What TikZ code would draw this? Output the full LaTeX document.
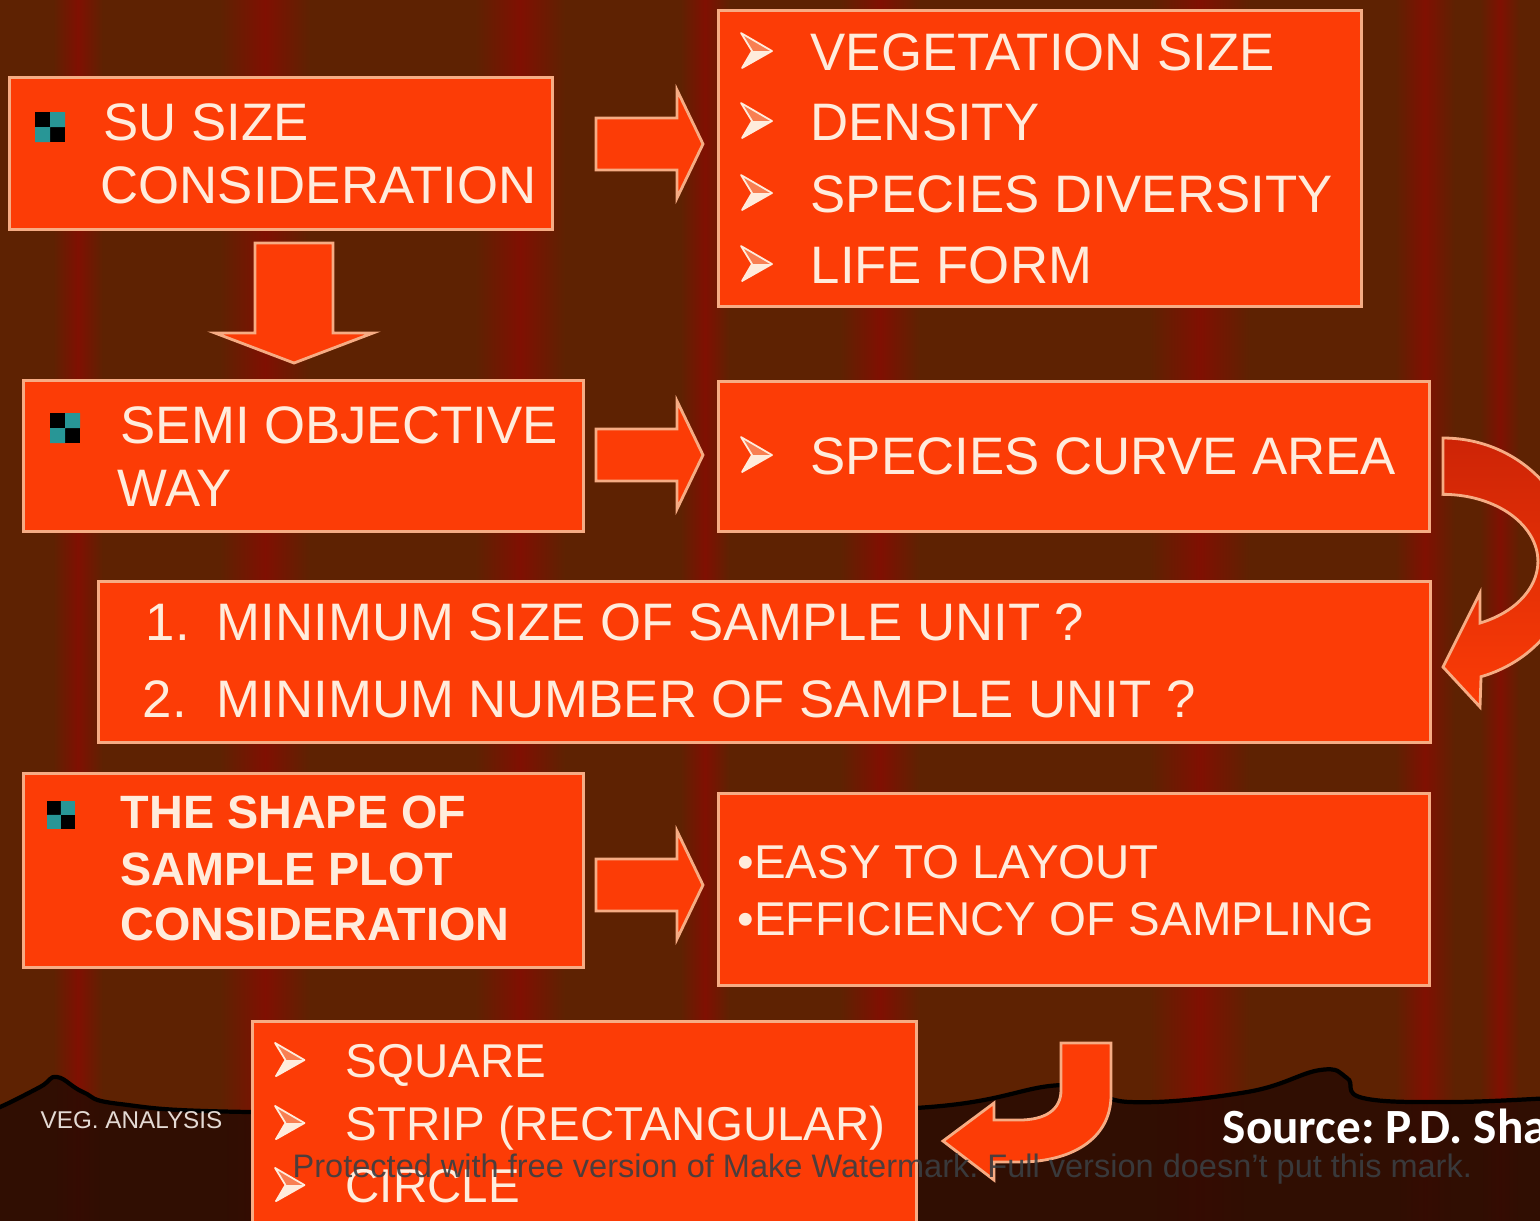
\documentclass[tikz,border=0pt]{standalone}
\usepackage{fontspec}
\setmainfont{Liberation Sans}
\newfontfamily\calfont{Carlito}
\frenchspacing

\definecolor{bgbrown}{RGB}{94,34,2}
\definecolor{bgred}{RGB}{128,16,2}
\definecolor{bgdark}{RGB}{40,11,2}
\definecolor{boxred}{RGB}{252,60,6}
\definecolor{arrdark}{RGB}{205,36,6}
\definecolor{boxline}{RGB}{246,172,132}
\definecolor{cream}{RGB}{255,236,220}
\definecolor{tealsq}{RGB}{40,150,150}
\definecolor{wmgray}{RGB}{58,62,66}

\begin{document}
\begin{tikzpicture}[x=0.01cm, y=-0.01cm]
\tikzset{
  box/.style={draw=boxline, line width=0.8pt, fill=boxred, inner sep=0pt, anchor=north west},
  txt/.style={text=cream, anchor=base west, inner sep=0pt, font=\fontsize{15}{18}\selectfont},
  smalltxt/.style={txt, font=\fontsize{13.5}{16}\selectfont},
  boldtxt/.style={txt, font=\fontsize{13.3}{16}\selectfont\bfseries},
  blockarr/.style={draw=boxline, line width=0.8pt, fill=boxred, line join=miter},
  pics/chev/.style={code={
    \fill[boxline!60!boxred] (0,-18) -- (31,0) -- (11,0) -- cycle;
    \fill[cream] (11,0) -- (31,0) -- (1,17) -- cycle;
    \draw[cream, line width=0.5pt, line join=round] (0,-18) -- (31,0) -- (1,17) -- (11,0) -- cycle;
  }},
  pics/chk/.style={code={
    \fill[black] (0,0) rectangle (30,30);
    \fill[tealsq] (15,0) rectangle (30,15) (0,15) rectangle (15,30);
  }},
  pics/rblock/.style={code={
    \draw[blockarr] (0,-26) -- (81,-26) -- (81,-54) -- (107,0) -- (81,54) -- (81,26) -- (0,26) -- cycle;
  }},
  pics/dblock/.style={code={
    \draw[blockarr] (-39,0) -- (39,0) -- (39,90) -- (79,90) -- (0,120) -- (-79,90) -- (-39,90) -- cycle;
  }}
}
\useasboundingbox (0,0) rectangle (1540,1220);
\clip (-10,-10) rectangle (1550,1230);

% curtain background
\fill[bgbrown] (-10,-10) rectangle (1550,1230);
\foreach \cx/\w in {78/25, 265/45, 520/45, 705/25, 880/40, 1200/50, 1425/30, 1500/20} {
  \shade[left color=bgbrown, right color=bgred] (\cx-\w,-10) rectangle (\cx,1230);
  \shade[left color=bgred, right color=bgbrown] (\cx,-10) rectangle (\cx+\w,1230);
}
\fill[bgdark, opacity=0.85] plot[smooth, tension=0.7] coordinates {(-10,1108) (0,1107) (40,1087) (57,1077) (83,1092) (120,1104) (250,1112) (600,1112) (915,1108) (1063,1085) (1130,1102) (1247,1092) (1320,1070) (1347,1078) (1363,1098) (1450,1102) (1550,1098)} -- (1550,1230) -- (-10,1230) -- cycle;
\draw[black, line width=1.2pt] plot[smooth, tension=0.7] coordinates {(-10,1108) (0,1107) (40,1087) (57,1077) (83,1092) (120,1104) (250,1112) (600,1112) (915,1108) (1063,1085) (1130,1102) (1247,1092) (1320,1070) (1347,1078) (1363,1098) (1450,1102) (1550,1098)};

% boxes
\node[box, minimum width=5.43cm, minimum height=1.52cm] (su) at (8,76) {};
\node[box, minimum width=6.43cm, minimum height=2.96cm] (veg) at (717,9) {};
\node[box, minimum width=5.60cm, minimum height=1.51cm] (semi) at (22,379) {};
\node[box, minimum width=7.11cm, minimum height=1.50cm] (curve) at (717,380) {};
\node[box, minimum width=13.31cm, minimum height=1.61cm] (minq) at (97,580) {};
\node[box, minimum width=5.60cm, minimum height=1.94cm] (shape) at (22,772) {};
\node[box, minimum width=7.11cm, minimum height=1.92cm] (easy) at (717,792) {};
\node[box, minimum width=6.64cm, minimum height=2.30cm] (forms) at (251,1020) {};

% block arrows
\coordinate (r1) at (596,144);
\coordinate (r2) at (596,455);
\coordinate (r3) at (596,885);
\coordinate (d1) at (294,243);
\pic at (r1) {rblock};
\pic at (r2) {rblock};
\pic at (r3) {rblock};
\pic at (d1) {dblock};

\draw[blockarr, top color=arrdark, bottom color=boxred] (1443,438) arc[start angle=-90, end angle=73, x radius=130, y radius=122] -- (1480,707) -- (1443,667) -- (1480,593) -- (1480,623) arc[start angle=67, end angle=-90, x radius=95, y radius=67] -- cycle;
\draw[blockarr] (1061,1043) -- (1111,1043) -- (1111,1095) .. controls (1111,1140) and (1070,1162) .. (1019,1162) -- (994,1162) -- (994,1180) -- (943,1141) -- (994,1103) -- (994,1120) -- (1019,1120) .. controls (1045,1120) and (1061,1110) .. (1061,1090) -- cycle;

% box texts
\pic at (35,112) {chk};
\node[txt] (su1) at (103,140) {SU SIZE};
\node[txt] (su2) at (100,203) {CONSIDERATION};

\foreach \by/\t [count=\i] in {70/VEGETATION SIZE, 140/DENSITY, 212/SPECIES DIVERSITY, 283/LIFE FORM} {
  \pic at (741,\by-19) {chev};
  \node[txt] (veg\i) at (810,\by) {\t};
}

\pic at (50,413) {chk};
\node[txt] (semi1) at (120,443) {SEMI OBJECTIVE};
\node[txt] (semi2) at (117,506) {WAY};

\pic at (741,455) {chev};
\node[txt] (curve1) at (810,474) {SPECIES CURVE AREA};

\node[txt] (n1) at (145,640) {1.};
\node[txt] (minq1) at (216,640) {MINIMUM SIZE OF SAMPLE UNIT ?};
\node[txt] (n2) at (142,717) {2.};
\node[txt] (minq2) at (216,717) {MINIMUM NUMBER OF SAMPLE UNIT ?};

\pic[scale=0.93] at (47,801) {chk};
\node[boldtxt] (shape1) at (120,828) {THE SHAPE OF};
\node[boldtxt] (shape2) at (120,885) {SAMPLE PLOT};
\node[boldtxt] (shape3) at (120,940) {CONSIDERATION};

\node[smalltxt] (easy1) at (737,878) {•EASY TO LAYOUT};
\node[smalltxt] (easy2) at (737,935) {•EFFICIENCY OF SAMPLING};

\foreach \by/\t [count=\i] in {1077/SQUARE, 1140/STRIP (RECTANGULAR), 1202/CIRCLE} {
  \pic[scale=0.95] at (275,\by-17) {chev};
  \node[smalltxt] (forms\i) at (345,\by) {\t};
}

% footer
\node[anchor=base west, inner sep=0pt, text={rgb,255:red,228;green,218;blue,212}, font=\fontsize{6.9}{9}\selectfont] (foot) at (40,1128) {VEG. ANALYSIS};
\node[anchor=base west, inner sep=0pt, text=white, font=\calfont\bfseries\fontsize{14}{17}\selectfont] (src) at (1222,1143) {Source: P.D. Sha};
\node[anchor=base west, inner sep=0pt, text=wmgray, opacity=0.9, font=\fontsize{9.25}{11}\selectfont] (wm) at (292,1177) {Protected with free version of Make Watermark. Full version doesn't put this mark.};
\end{tikzpicture}
\end{document}
